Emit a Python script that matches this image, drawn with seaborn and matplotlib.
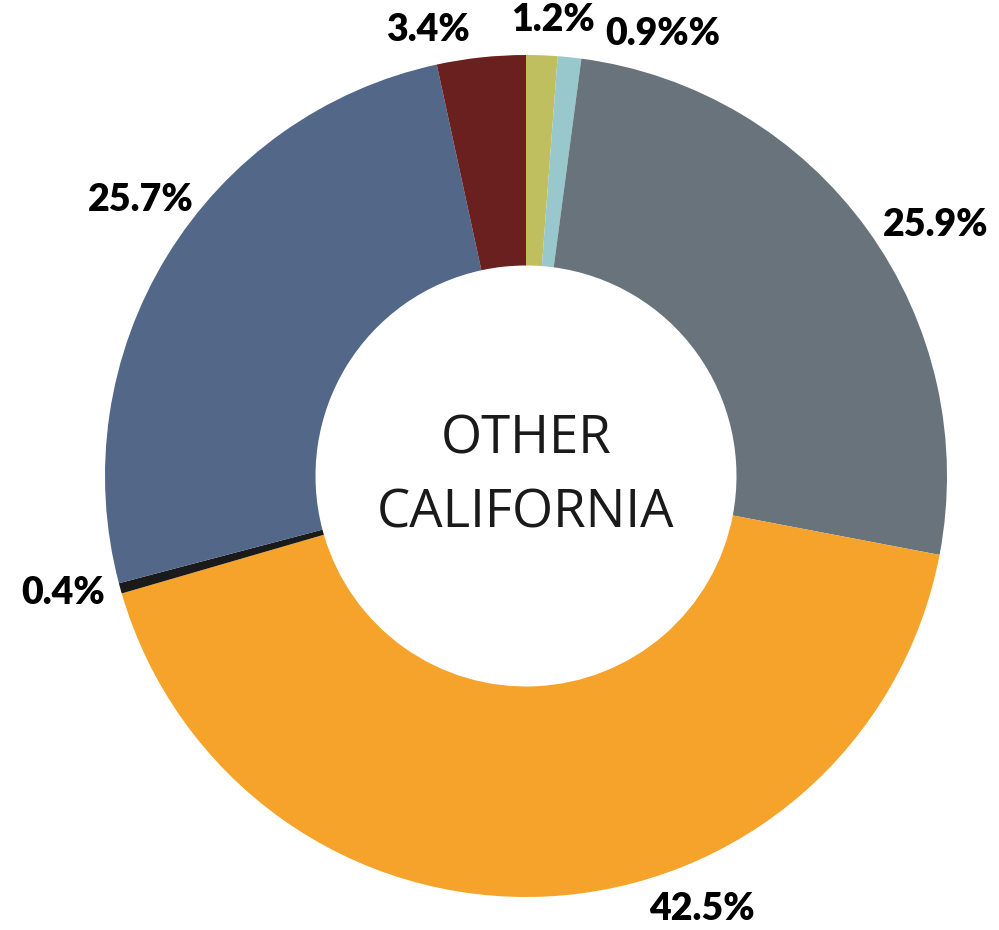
import numpy as np
import matplotlib
matplotlib.use("Agg")
import matplotlib.pyplot as plt
import seaborn as sns

sns.set_theme(style="white")

# slice values, clockwise from 12 o'clock
shares = [1.2, 0.9, 25.9, 42.5, 0.4, 25.7, 3.4]
labels = ["1.2%", "0.9%%", "25.9%", "42.5%", "0.4%", "25.7%", "3.4%"]
colors = ["#C0BF5F", "#99C8CC", "#68737B", "#F5A32A", "#1A1A1A", "#536788", "#6B2020"]
center_text = "OTHER\nCALIFORNIA"

# label placement (angle in degrees, radius as fraction of outer radius)
label_angle = [86.6, 72.8, 31.5, -67.9, -165.8, 144.4, 102.4]
label_radius = [1.085, 1.10, 1.14, 1.11, 1.135, 1.125, 1.085]

fig = plt.figure(figsize=(9.99, 9.30), dpi=100)
ax = fig.add_axes([0, 0, 1, 1])

ax.pie(shares, colors=sns.color_palette(colors), startangle=90, counterclock=False,
       radius=1.0, wedgeprops=dict(width=0.5, edgecolor="none"))

for lab, a, r in zip(labels, label_angle, label_radius):
    t = np.deg2rad(a)
    ax.text(r * np.cos(t), r * np.sin(t), lab, ha="center", va="center",
            fontsize=27, fontweight="heavy", family=["Lato", "DejaVu Sans"], color="black")

top, bottom = center_text.split("\n")
ax.text(0, 0.085, top, ha="center", va="center", fontsize=38,
        family=["Open Sans", "DejaVu Sans"], color="#1a1a1a")
ax.text(0, -0.09, bottom, ha="center", va="center", fontsize=38,
        family=["Open Sans", "DejaVu Sans"], color="#1a1a1a")

ax.set_xlim(-526 / 421, (999 - 526) / 421)
ax.set_ylim(-(930 - 476) / 421, 476 / 421)
ax.set_aspect("auto")
ax.axis("off")

fig.savefig("out.png", dpi=100)
